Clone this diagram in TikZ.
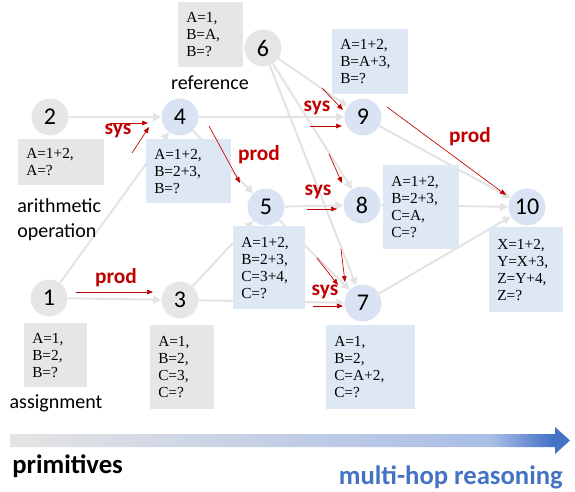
\documentclass[tikz,border=0pt]{standalone}
\usepackage{fontspec}
\setmainfont{Liberation Serif}
\newfontfamily\calibri{Carlito}
\usetikzlibrary{arrows.meta}
\definecolor{cgray}{HTML}{E6E6E6}
\definecolor{cblue}{HTML}{DAE3F3}
\definecolor{bgray}{HTML}{E7E6E6}
\definecolor{bblue}{HTML}{DEE8F4}
\definecolor{edgegray}{HTML}{E3E3E3}
\definecolor{darkred}{HTML}{C00000}
\definecolor{hopblue}{HTML}{4472C4}
\definecolor{g0}{HTML}{E4E4E4}
\definecolor{g1}{HTML}{A9BDE6}
\pgfdeclarehorizontalshading{progress}{100bp}{color(0bp)=(g0); color(25bp)=(g0); color(68bp)=(g1); color(73.5bp)=(hopblue); color(100bp)=(hopblue)}
\tikzset{
  circ/.style={circle, minimum size=27.75pt, inner sep=0pt, font=\calibri\fontsize{18}{20}\selectfont},
  gcirc/.style={circ, fill=cgray},
  bcirc/.style={circ, fill=cblue},
  box/.style={anchor=north west, inner xsep=6pt, inner ysep=0pt, align=left, font=\fontsize{11.5}{12.75}\selectfont},
  gbox/.style={box, fill=bgray},
  bbox/.style={box, fill=bblue},
  edge/.style={draw=edgegray, line width=1.5pt, -{Triangle[length=6pt,width=6pt]}},
  redarr/.style={draw=darkred, line width=0.5pt, -{Triangle[length=4.5pt,width=3.5pt]}},
  redlbl/.style={text=darkred, font=\calibri\bfseries\fontsize{16}{18}\selectfont, inner sep=0pt},
  lbl/.style={font=\calibri\fontsize{15}{18.75}\selectfont, inner sep=0pt}
}
\begin{document}
\begin{tikzpicture}[x=0.75pt,y=-0.75pt]
\useasboundingbox (0,0) rectangle (575,492);
% circles
\node[gcirc] (n1) at (49,298) {1};
\node[gcirc] (n2) at (50,117) {2};
\node[gcirc] (n3) at (180,300) {3};
\node[bcirc] (n4) at (180,117) {4};
\node[bcirc] (n5) at (266,207) {5};
\node[gcirc] (n6) at (263,48) {6};
\node[bcirc] (n7) at (363,303) {7};
\node[bcirc] (n8) at (362,205) {8};
\node[bcirc] (n9) at (363,117) {9};
\node[bcirc] (n10) at (527,207) {10};
% edges
\draw[edge] (n2) -- (n4);
\draw[edge] (n1) -- (n4);
\draw[edge] (n1) -- (n3);
\draw[edge] (n4) -- (n5);
\draw[edge] (n3) -- (n5);
\draw[edge] (n4) -- (n9);
\draw[edge] (n6) -- (n9);
\draw[edge] (n6) -- (n8);
\draw[edge] (n6) -- (n7);
\draw[edge] (n5) -- (n8);
\draw[edge] (n5) -- (n7);
\draw[edge] (n3) -- (n7);
\draw[edge] (n9) -- (n10);
\draw[edge] (n8) -- (n10);
\draw[edge] (n7) -- (n10);
% boxes
\node[gbox, text width=36.75pt, minimum height=48.75pt] (b6) at (178,2) {A=1,\\B=A,\\B=?};
\node[gbox, text width=52.5pt, minimum height=34.5pt] (b2) at (18,139) {A=1+2,\\A=?};
\node[bbox, text width=51.75pt, minimum height=48pt] (b4) at (146,139) {A=1+2,\\B=2+3,\\B=?};
\node[bbox, text width=42pt, minimum height=62.25pt] (b5) at (233,226) {A=1+2,\\B=2+3,\\C=3+4,\\C=?};
\node[bbox, text width=45pt, minimum height=48.75pt] (b9) at (332,29) {A=1+2,\\B=A+3,\\B=?};
\node[bbox, text width=45pt, minimum height=63pt] (b8) at (383,165) {A=1+2,\\B=2+3,\\C=A,\\C=?};
\node[bbox, text width=43.5pt, minimum height=63.75pt] (b10) at (489,227) {X=1+2,\\Y=X+3,\\Z=Y+4,\\Z=?};
\node[bbox, text width=54.75pt, minimum height=63pt] (b7) at (326,325) {A=1,\\B=2,\\C=A+2,\\C=?};
\node[gbox, text width=35.25pt, minimum height=48pt] (b1) at (24,323) {A=1,\\B=2,\\B=?};
\node[gbox, text width=36pt, minimum height=63pt] (b3) at (150,325) {A=1,\\B=2,\\C=3,\\C=?};
% labels
\node[lbl] (tref) at (210,83) {reference};
\node[lbl, anchor=west, align=left] (tarith) at (17,219.5) {arithmetic\\operation};
\node[lbl] (tassign) at (56,403) {assignment};
% red annotation arrows
\coordinate (a1s) at (110,123); \coordinate (a1e) at (148,123);
\coordinate (a2s) at (132,153); \coordinate (a2e) at (149,127);
\coordinate (a3s) at (209,126); \coordinate (a3e) at (240,183);
\coordinate (a4s) at (76,292); \coordinate (a4e) at (153,292);
\coordinate (a5s) at (322,88); \coordinate (a5e) at (343,110);
\coordinate (a6s) at (310,126); \coordinate (a6e) at (342,126);
\coordinate (a7s) at (329,154); \coordinate (a7e) at (342,183);
\coordinate (a8s) at (307,209); \coordinate (a8e) at (337,209);
\coordinate (a9s) at (387,107); \coordinate (a9e) at (506,195);
\coordinate (a10s) at (317,258); \coordinate (a10e) at (338,285);
\coordinate (a11s) at (341,249); \coordinate (a11e) at (345,282);
\coordinate (a12s) at (313,306); \coordinate (a12e) at (343,306);
\foreach \i in {1,...,12} {\draw[redarr] (a\i s) -- (a\i e);}
\node[redlbl] (s4) at (118,131) {sys};
\node[redlbl] (p5) at (259,155) {prod};
\node[redlbl] (p3) at (116,278) {prod};
\node[redlbl] (s9) at (317,108) {sys};
\node[redlbl] (s8) at (318,192) {sys};
\node[redlbl] (p10) at (470,137) {prod};
\node[redlbl] (s7) at (325,292) {sys};
% progress arrow
\path[shading=progress] (10,434) -- (555,434) -- (555,427) -- (570,440.5) -- (555,454) -- (555,447) -- (10,447) -- cycle;
\node[font=\calibri\bfseries\fontsize{20}{24}\selectfont, anchor=west, inner sep=0pt] (tprim) at (12,466) {primitives};
\node[font=\calibri\bfseries\fontsize{20}{24}\selectfont, text=hopblue, anchor=east, inner sep=0pt] (thop) at (563,477) {multi-hop reasoning};
\end{tikzpicture}
\end{document}
